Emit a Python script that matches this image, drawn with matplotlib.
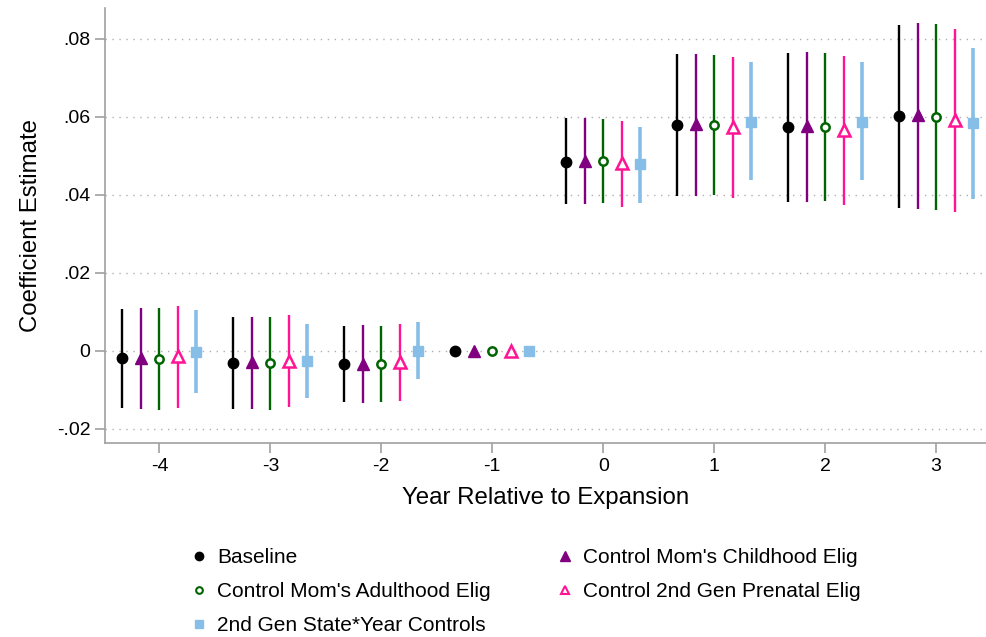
import numpy as np
import matplotlib
matplotlib.use("Agg")
import matplotlib.pyplot as plt
from matplotlib.lines import Line2D

plt.rcParams['font.family'] = ['Liberation Sans', 'DejaVu Sans']

years = [-4, -3, -2, -1, 0, 1, 2, 3]
xtick_labels = ["-4", "-3", "-2", "-1", "0", "1", "2", "3"]
ytick_vals = [-0.02, 0, 0.02, 0.04, 0.06, 0.08]
ytick_labels = ["-.02", "0", ".02", ".04", ".06", ".08"]

names = ["Baseline", "Control Mom's Childhood Elig", "Control Mom's Adulthood Elig",
         "Control 2nd Gen Prenatal Elig", "2nd Gen State*Year Controls"]

baseline_est = [-0.0019, -0.0030, -0.0034, 0.0, 0.0485, 0.0579, 0.0573, 0.0601]
baseline_lo = [-0.0147, -0.0149, -0.0132, np.nan, 0.0376, 0.0397, 0.0383, 0.0366]
baseline_hi = [0.0108, 0.0086, 0.0064, np.nan, 0.0596, 0.0760, 0.0764, 0.0836]

child_est = [-0.0017, -0.0028, -0.0033, 0.0, 0.0488, 0.0582, 0.0577, 0.0604]
child_lo = [-0.0149, -0.0149, -0.0134, np.nan, 0.0376, 0.0397, 0.0383, 0.0364]
child_hi = [0.0110, 0.0087, 0.0066, np.nan, 0.0596, 0.0762, 0.0767, 0.0841]

adult_est = [-0.0021, -0.0032, -0.0033, 0.0, 0.0486, 0.0579, 0.0573, 0.0600]
adult_lo = [-0.0151, -0.0152, -0.0132, np.nan, 0.0378, 0.0400, 0.0384, 0.0362]
adult_hi = [0.0110, 0.0088, 0.0064, np.nan, 0.0595, 0.0759, 0.0763, 0.0838]

prenatal_est = [-0.0013, -0.0025, -0.0029, 0.0, 0.0481, 0.0574, 0.0566, 0.0591]
prenatal_lo = [-0.0146, -0.0145, -0.0129, np.nan, 0.0370, 0.0391, 0.0374, 0.0356]
prenatal_hi = [0.0115, 0.0092, 0.0068, np.nan, 0.0590, 0.0753, 0.0756, 0.0825]

stateyr_est = [-0.0003, -0.0025, 0.0001, 0.0, 0.0478, 0.0587, 0.0587, 0.0583]
stateyr_lo = [-0.0107, -0.0121, -0.0073, np.nan, 0.0379, 0.0437, 0.0437, 0.0389]
stateyr_hi = [0.0105, 0.0069, 0.0073, np.nan, 0.0574, 0.0741, 0.0740, 0.0777]

series = [
    (baseline_est, baseline_lo, baseline_hi),
    (child_est, child_lo, child_hi),
    (adult_est, adult_lo, adult_hi),
    (prenatal_est, prenatal_lo, prenatal_hi),
    (stateyr_est, stateyr_lo, stateyr_hi),
]

colors = ["#000000", "#800080", "#006400", "#FF1493", "#87BEE8"]
markers = ["o", "^", "o", "^", "s"]
mfaces = ["#000000", "#800080", "white", "white", "#87BEE8"]
msizes = [7.5, 9, 6, 8, 7.5]
lws = [1.7, 1.7, 1.7, 1.7, 2.6]
offsets = [-1/3, -1/6, 0, 1/6, 1/3]

fig = plt.figure(figsize=(9.86, 6.37), dpi=100)
ax = fig.add_axes([0.1065, 0.3046, 0.8935, 0.6828])

handles = []
for i, (est, lo, hi) in enumerate(series):
    est = np.array(est); lo = np.array(lo); hi = np.array(hi)
    x = np.array(years) + offsets[i]
    ax.vlines(x, lo, hi, color=colors[i], lw=lws[i], zorder=2)
    ax.plot(x, est, linestyle='none', marker=markers[i], markersize=msizes[i],
            markerfacecolor=mfaces[i], markeredgecolor=colors[i],
            markeredgewidth=1.8 if mfaces[i] == "white" else 1, zorder=3)
    handles.append(Line2D([], [], linestyle='none', marker=markers[i],
                          markersize=msizes[i] * 0.8, markerfacecolor=mfaces[i],
                          markeredgecolor=colors[i],
                          markeredgewidth=1.5 if mfaces[i] == "white" else 1))

ax.set_xlim(-4.49, 3.45)
ax.set_ylim(-0.0236, 0.0879)
ax.set_xticks(years)
ax.set_xticklabels(xtick_labels)
ax.set_yticks(ytick_vals)
ax.set_yticklabels(ytick_labels)
ax.yaxis.grid(True, linestyle=(0, (1, 4)), color="#b0b0b0", lw=1)
ax.set_axisbelow(True)
for s in ["top", "right"]:
    ax.spines[s].set_visible(False)
for s in ["left", "bottom"]:
    ax.spines[s].set_color("#a0a0a0")
    ax.spines[s].set_linewidth(1.2)
ax.tick_params(axis='both', colors="#a0a0a0", labelcolor="black", labelsize=14,
               length=7, width=1.2)
ax.set_ylabel("Coefficient Estimate", fontsize=17.3, labelpad=11)
ax.set_xlabel("Year Relative to Expansion", fontsize=17.3, labelpad=9)

order = [0, 2, 4, 1, 3]
fig.legend([handles[k] for k in order], [names[k] for k in order],
           loc="upper left", bbox_to_anchor=(0.185, 0.153), ncol=2,
           frameon=False, fontsize=15, handlelength=0.8, handletextpad=0.45,
           columnspacing=3.2, labelspacing=0.73, borderaxespad=0)

fig.savefig("out.png", dpi=100, facecolor="white")
